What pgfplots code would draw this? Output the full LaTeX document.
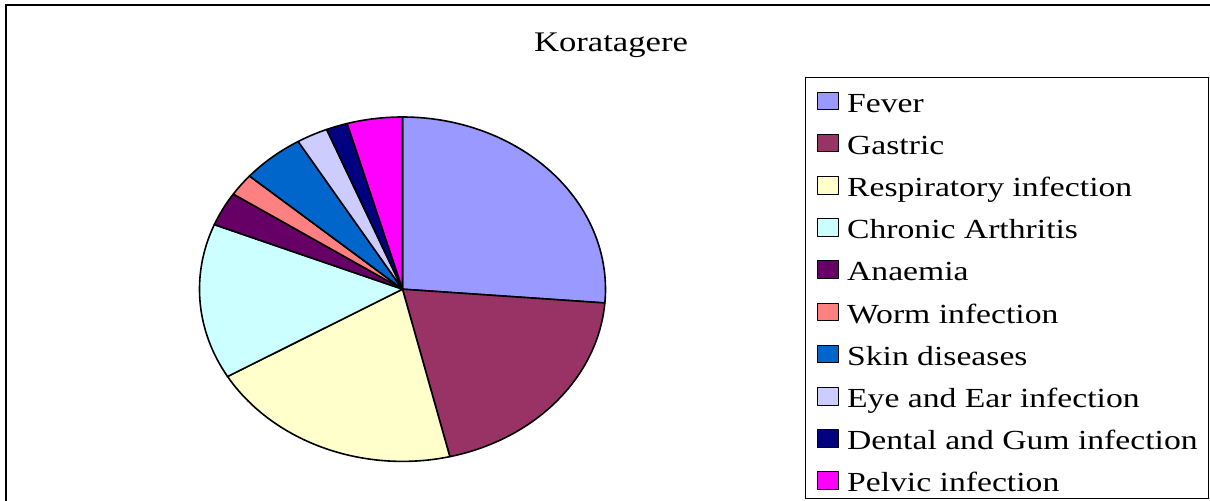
\documentclass[border=0pt]{standalone}
\usepackage{fontspec}
\setmainfont{Liberation Serif}[FakeStretch=1.22]
\usepackage{pgfplots}
\usepackage{pgfplotstable}
\pgfplotsset{compat=1.18}
\definecolor{c0}{HTML}{9999FF}
\definecolor{c1}{HTML}{993366}
\definecolor{c2}{HTML}{FFFFCC}
\definecolor{c3}{HTML}{CCFFFF}
\definecolor{c4}{HTML}{660066}
\definecolor{c5}{HTML}{FF8080}
\definecolor{c6}{HTML}{0066CC}
\definecolor{c7}{HTML}{CCCCFF}
\definecolor{c8}{HTML}{000080}
\definecolor{c9}{HTML}{FF00FF}
\pgfplotstableread[col sep=comma]{
name,value
Fever,26.3
Gastric,20.0
Respiratory infection,20.3
Chronic Arthritis,14.6
Anaemia,3.2
Worm infection,2.1
Skin diseases,5.0
Eye and Ear infection,2.5
Dental and Gum infection,1.7
Pelvic infection,4.4
}\piedata
\begin{document}
\begin{tikzpicture}
\begin{axis}[
  width=1210bp, height=501bp, scale only axis,
  xmin=0, xmax=1210, ymin=0, ymax=501,
  hide axis, clip=false,
  legend cell align=left,
  legend style={at={(axis cs:805,424)}, anchor=north west,
    draw=black, line width=1bp, fill=white,
    inner xsep=11bp, inner ysep=1bp, row sep=2.5bp, column sep=8bp,
    nodes={inner sep=0pt, text height=33.7bp, text depth=6bp,
      font=\fontsize{27.7}{34}\selectfont}},
  legend image code/.code={\draw[#1, line width=1bp] (0bp,-11.45bp) rectangle (21.6bp,6.15bp);},
]
\pgfplotstablegetrowsof{\piedata}
\pgfmathtruncatemacro\N{\pgfplotsretval-1}
\def\total{0}
\pgfplotsforeachungrouped \i in {0,...,\N}{%
  \pgfplotstablegetelem{\i}{value}\of\piedata
  \pgfmathsetmacro\total{\total+\pgfplotsretval}%
}
\def\cum{0}
\pgfplotsforeachungrouped \i in {0,...,\N}{%
  \pgfplotstablegetelem{\i}{value}\of\piedata
  \let\v\pgfplotsretval
  \pgfplotstablegetelem{\i}{name}\of\piedata
  \let\nm\pgfplotsretval
  \pgfmathsetmacro\astart{90-\cum/\total*360}%
  \pgfmathsetmacro\cum{\cum+\v}%
  \pgfmathsetmacro\aend{90-\cum/\total*360}%
  \edef\cmd{\noexpand\addplot[fill=c\i, draw=black, line width=1.6bp, line join=round,
     domain=\aend:\astart, samples=80]
     ({402.5+203*cos(x)},{211.8+172.2*sin(x)}) -- (axis cs:402.5,211.8) -- cycle;
     \noexpand\addlegendentry{\nm}}%
  \cmd
}
\draw[line width=2bp] (axis cs:6,-5) -- (axis cs:6,496) -- (axis cs:1220,496);
\node[anchor=base, font=\fontsize{28.5}{34}\selectfont, inner sep=0pt] at (axis cs:611,449) {Koratagere};
\end{axis}
\pgfresetboundingbox
\useasboundingbox (0,0) rectangle (1210bp,501bp);
\end{tikzpicture}
\end{document}
